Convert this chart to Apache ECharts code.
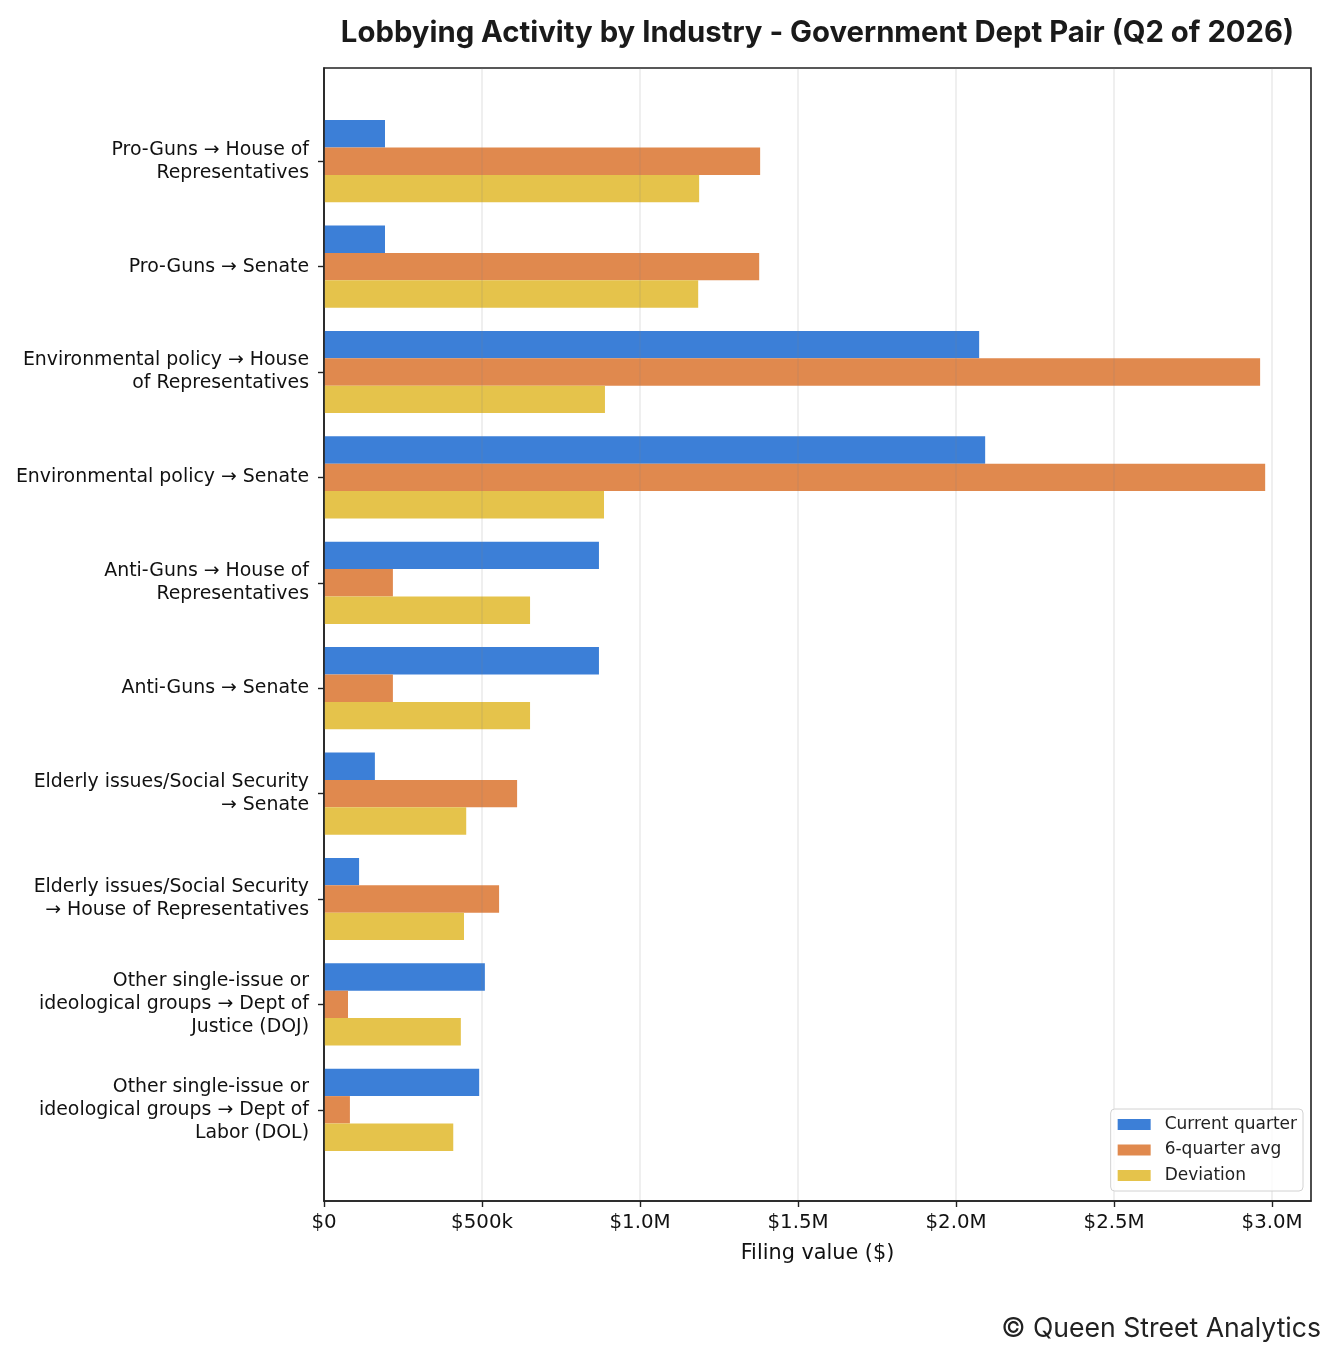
<!DOCTYPE html>
<html>
<head>
<meta charset="utf-8">
<script src="https://cdn.jsdelivr.net/npm/echarts@6/dist/echarts.min.js"></script>
<style>
  html, body { margin: 0; padding: 0; background: #fff; }
  #chart { width: 1337px; height: 1360px; }
</style>
</head>
<body>
<div id="chart"></div>
<script>
// categories top to bottom, line breaks as in the picture
const pairs = [
  'Pro-Guns → House of\nRepresentatives',
  'Pro-Guns → Senate',
  'Environmental policy → House\nof Representatives',
  'Environmental policy → Senate',
  'Anti-Guns → House of\nRepresentatives',
  'Anti-Guns → Senate',
  'Elderly issues/Social Security\n→ Senate',
  'Elderly issues/Social Security\n→ House of Representatives',
  'Other single-issue or\nideological groups → Dept of\nJustice (DOJ)',
  'Other single-issue or\nideological groups → Dept of\nLabor (DOL)'
]
const currentQuarter = [193000, 193000, 2073000, 2092000, 870000, 870000, 161000, 111000, 509000, 491000]
const sixQuarterAvg  = [1380000, 1377000, 2962000, 2978000, 218000, 218000, 611000, 554000, 76000, 82000]
const deviation      = [1187000, 1184000, 889000, 886000, 652000, 652000, 450000, 443000, 433000, 409000]
const seriesNames = ['Current quarter', '6-quarter avg', 'Deviation']
const xTicks = [0, 500000, 1000000, 1500000, 2000000, 2500000, 3000000]
const xMax = 3123000

const colors = ['#3c7fd7', '#e0894e', '#e5c34b']
const labelFont = 'DejaVu Sans'

//- 金额格式
function money(v){
  if(v === 0) return '$0'
  if(v < 1000000) return '$' + Math.round(v/1000) + 'k'
  return '$' + (v/1000000).toFixed(1) + 'M'
}

let myChart = echarts.init(document.getElementById('chart'))
let option = {
  animation: false,
  color: colors,
  grid: [
    {left: 324, right: 26, top: 68, bottom: 159, show: true, borderColor: '#222', borderWidth: 1.6, backgroundColor: 'transparent'},
    {left: 324, right: 26, top: 108.5, bottom: 197.5}
  ],
  legend: {
    data: seriesNames, orient: 'vertical', right: 34, bottom: 169, z: 10,
    icon: 'rect', itemWidth: 33, itemHeight: 11, itemGap: 8.5,
    padding: [7, 6, 7, 7], borderColor: '#d2d2d2', borderWidth: 1, borderRadius: 4,
    backgroundColor: 'rgba(255,255,255,0.8)',
    textStyle: {fontFamily: labelFont, fontSize: 17, color: '#222', padding: [0, 0, 0, 9]}
  },
  xAxis: [
    {
      type: 'value', gridIndex: 0, min: 0, max: xMax, interval: 500000, z: 5,
      axisLine: {show: true, lineStyle: {color: '#222', width: 1.6}},
      axisTick: {show: true, length: 6, customValues: xTicks, lineStyle: {color: '#222', width: 1.4}},
      axisLabel: {customValues: xTicks, formatter: money, fontFamily: labelFont, fontSize: 19.8, color: '#111', margin: 12},
      splitLine: {show: true, lineStyle: {color: 'rgba(128,128,128,0.17)', width: 1.5}},
      name: 'Filing value ($)', nameLocation: 'middle', nameGap: 42,
      nameTextStyle: {fontFamily: labelFont, fontSize: 20.8, color: '#111'}
    },
    {type: 'value', gridIndex: 1, min: 0, max: xMax, show: false}
  ],
  yAxis: [
    {
      type: 'value', gridIndex: 0, min: 0, max: 1, z: 5,
      axisLine: {show: true, lineStyle: {color: '#222', width: 1.6}},
      axisTick: {show: false}, axisLabel: {show: false}, splitLine: {show: false}
    },
    {
      type: 'category', gridIndex: 1, data: pairs, inverse: true,
      axisLine: {show: false},
      axisTick: {show: true, alignWithLabel: true, length: 6, lineStyle: {color: '#222', width: 1.4}},
      axisLabel: {fontFamily: labelFont, fontSize: 18.9, lineHeight: 23, color: '#111', margin: 15, align: 'right'}
    }
  ],
  series: []
}
option.series = [currentQuarter, sixQuarterAvg, deviation].map((v, i) => ({
  name: seriesNames[i], type: 'bar', data: v, xAxisIndex: 1, yAxisIndex: 1,
  barWidth: 27.4, barGap: '0%'
}))
option.graphic = [
  {type: 'text', x: 817.5, y: 33, z: 20,
   style: {text: 'Lobbying Activity by Industry - Government Dept Pair (Q2 of 2026)', font: 'bold 29.3px Inter', fill: '#1a1a1a', align: 'center', verticalAlign: 'middle', textAlign: 'center', textVerticalAlign: 'middle'}},
  {type: 'text', x: 1321, y: 1329, z: 20,
   style: {text: '© Queen Street Analytics', font: '26.6px Inter', fill: '#222', align: 'right', verticalAlign: 'middle', textAlign: 'right', textVerticalAlign: 'middle'}}
]
myChart.setOption(option)
</script>
</body>
</html>
